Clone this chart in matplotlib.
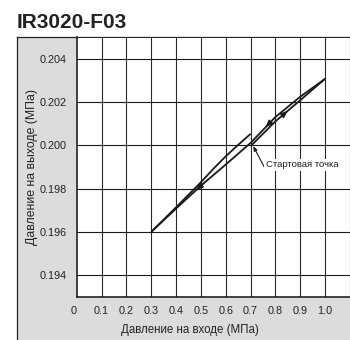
import numpy as np
import matplotlib
matplotlib.use("Agg")
import matplotlib.pyplot as plt
from matplotlib.patches import Rectangle

# Inlet pressure (MPa) vs. outlet pressure (MPa), pressure characteristic of IR3020-F03
start_up_in = [0.7, 0.8, 0.9, 1.0]
start_up_out = [0.19997, 0.20112, 0.20210, 0.20309]

down_in = [1.0, 0.9, 0.8, 0.7, 0.6, 0.5, 0.4, 0.3]
down_out = [0.20309, 0.20226, 0.20132, 0.20012, 0.19912, 0.19814, 0.19708, 0.19600]

final_up_in = [0.3, 0.4, 0.5, 0.55, 0.6, 0.65, 0.7]
final_up_out = [0.19600, 0.19714, 0.19830, 0.19892, 0.19950, 0.20003, 0.20054]

start_point = (0.71, 0.19998)

x_ticks = [0.0, 0.1, 0.2, 0.3, 0.4, 0.5, 0.6, 0.7, 0.8, 0.9, 1.0]
x_tick_labels = ["0", "0.1", "0.2", "0.3", "0.4", "0.5", "0.6", "0.7", "0.8", "0.9", "1.0"]
y_ticks = [0.194, 0.196, 0.198, 0.200, 0.202, 0.204]
y_tick_labels = ["0.194", "0.196", "0.198", "0.200", "0.202", "0.204"]

title = "IR3020-F03"
x_label = "Давление на входе (МПа)"
y_label = "Давление на выходе (МПа)"
start_label = "Стартовая точка"

regular = ["Liberation Sans", "DejaVu Sans"]
plt.rcParams["font.family"] = regular

fig = plt.figure(figsize=(3.5, 3.4), dpi=100)

# grey background panel (drawn underneath the plot axes)
bg = fig.add_axes([0, 0, 1, 1], zorder=0)
bg.set_xlim(0, 350)
bg.set_ylim(340, 0)
bg.axis("off")
bg.add_patch(Rectangle((17, 37), 340, 310, facecolor="#dcdcdc", edgecolor="none"))
bg.plot([17, 17], [37, 340], color="#222222", lw=0.9)
bg.plot([17, 350], [37, 37], color="#222222", lw=0.9)

ax = fig.add_axes([76.7 / 350, 1 - 296.7 / 340, 1 - 76.7 / 350, (296.7 - 37.5) / 340], zorder=2)
ax.set_facecolor("white")
ax.set_xlim(0, 1.1)
ax.set_ylim(0.193, 0.205)

# grid
for gx in np.arange(0.1, 1.11, 0.1):
    ax.axvline(gx, color="#2a2a2a", lw=0.8, zorder=1)
for gy in y_ticks:
    ax.axhline(gy, color="#1a1a1a", lw=0.8, zorder=1)

for s in ["left", "bottom"]:
    ax.spines[s].set_linewidth(1.1)
    ax.spines[s].set_color("#111111")
for s in ["top", "right"]:
    ax.spines[s].set_visible(False)

ax.set_xticks(x_ticks)
ax.set_xticklabels(x_tick_labels, fontsize=7.8, color="#222222")
ax.set_yticks(y_ticks)
ax.set_yticklabels(y_tick_labels, fontsize=7.8, color="#222222")
ax.tick_params(length=0, pad=7)
for lbl in ax.get_xticklabels():
    lbl.set_horizontalalignment("right" if lbl.get_text() == "0" else "center")

# curves
line_kw = dict(color="#1a1a1a", lw=1.3, solid_capstyle="butt", solid_joinstyle="round", zorder=3)
ax.plot(start_up_in, start_up_out, **line_kw)
ax.plot(down_in, down_out, **line_kw)
ax.plot(final_up_in, final_up_out, **line_kw)


def arrow_on(xs, ys, x0, x1):
    order = np.argsort(xs)
    xs_s = np.asarray(xs)[order]
    ys_s = np.asarray(ys)[order]
    y0 = np.interp(x0, xs_s, ys_s)
    y1 = np.interp(x1, xs_s, ys_s)
    ax.annotate("", xy=(x1, y1), xytext=(x0, y0),
                arrowprops=dict(arrowstyle="-|>,head_length=0.45,head_width=0.18",
                                color="#1a1a1a", lw=0.8, shrinkA=0, shrinkB=0), zorder=4)


arrow_on(down_in, down_out, 0.52, 0.48)
arrow_on(down_in, down_out, 0.80, 0.76)
arrow_on(start_up_in, start_up_out, 0.81, 0.85)

# start point callout
ax.annotate(start_label, xy=start_point, xytext=(0.76, 0.19910),
            fontsize=6.8, color="#222222", ha="left", va="center",
            bbox=dict(boxstyle="square,pad=0.15", facecolor="white", edgecolor="none"),
            arrowprops=dict(arrowstyle="-|>,head_length=0.4,head_width=0.15", color="#1a1a1a",
                            lw=0.8, shrinkA=0, shrinkB=0, relpos=(0, 0)),
            zorder=5)

fig.text(17 / 350, 1 - 27.5 / 340, title, fontsize=15, fontweight="bold",
         color="#222222", ha="left", va="baseline")
fig.text(190 / 350, 1 - 330 / 340, x_label, fontsize=8.3, color="#222222",
         ha="center", va="center")
fig.text(32 / 350, 1 - 167 / 340, y_label, fontsize=8.8, color="#222222",
         ha="center", va="center", rotation=90)

fig.savefig("out.png", dpi=100)
